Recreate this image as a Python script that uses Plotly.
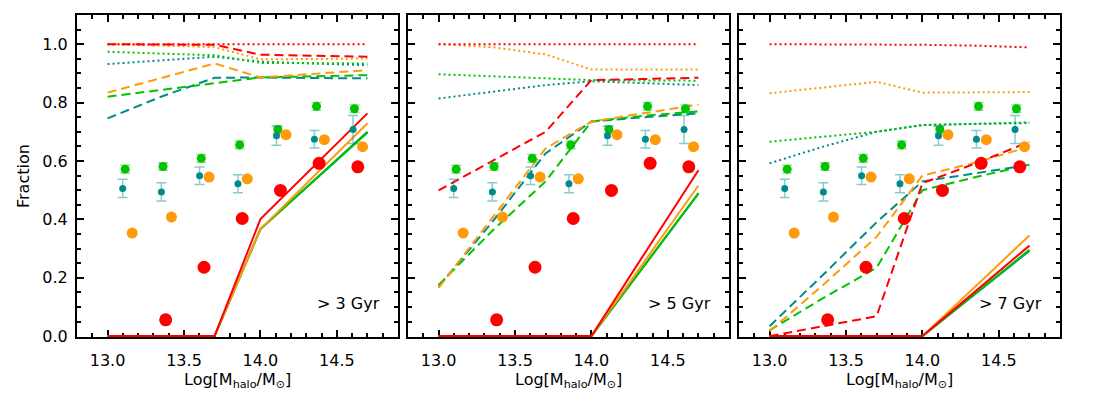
import plotly.graph_objects as go

# ---------------- data ----------------
mass_nodes = [13.0, 13.35, 13.7, 14.0, 14.35, 14.7]
panel_labels = ["> 3 Gyr", "> 5 Gyr", "> 7 Gyr"]

# points (same in all panels)
green_x = [13.115, 13.363, 13.613, 13.864, 14.114, 14.367, 14.615]
green_y = [0.572, 0.581, 0.609, 0.655, 0.708, 0.787, 0.779]
green_err = [0.013, 0.013, 0.013, 0.013, 0.013, 0.013, 0.013]
teal_x = [13.099, 13.352, 13.602, 13.853, 14.105, 14.353, 14.606]
teal_y = [0.506, 0.494, 0.549, 0.522, 0.686, 0.674, 0.708]
teal_err = [0.031, 0.031, 0.030, 0.031, 0.032, 0.030, 0.048]
orange_x = [13.161, 13.418, 13.664, 13.914, 14.167, 14.418, 14.668]
orange_y = [0.353, 0.408, 0.545, 0.539, 0.690, 0.673, 0.649]
red_x = [13.380, 13.631, 13.881, 14.131, 14.384, 14.637]
red_y = [0.056, 0.236, 0.403, 0.499, 0.592, 0.580]

# panel 1 (> 3 Gyr)
p1_red_dot = [1.0, 1.0, 1.0, 1.0, 1.0, 1.0]
p1_orange_dot = [1.0, 0.996, 0.99, 0.948, 0.95, 0.951]
p1_green_dot = [0.974, 0.968, 0.962, 0.936, 0.935, 0.934]
p1_teal_dot = [0.932, 0.945, 0.957, 0.94, 0.934, 0.928]
p1_red_dash = [1.0, 1.0, 0.998, 0.964, 0.960, 0.957]
p1_orange_dash = [0.834, 0.884, 0.934, 0.886, 0.898, 0.911]
p1_green_dash = [0.82, 0.843, 0.866, 0.886, 0.89, 0.894]
p1_teal_dash = [0.746, 0.82, 0.885, 0.886, 0.884, 0.883]
p1_red_solid = [0.0, 0.0, 0.0, 0.401, 0.582, 0.763]
p1_orange_solid = [0.0, 0.0, 0.0, 0.367, 0.548, 0.729]
p1_green_solid = [0.0, 0.0, 0.0, 0.367, 0.532, 0.697]
p1_teal_solid = [0.0, 0.0, 0.0, 0.367, 0.535, 0.700]

# panel 2 (> 5 Gyr)
p2_red_dot = [1.0, 1.0, 1.0, 1.0, 1.0, 1.0]
p2_orange_dot = [1.0, 0.99, 0.965, 0.913, 0.913, 0.913]
p2_green_dot = [0.897, 0.89, 0.883, 0.877, 0.876, 0.875]
p2_teal_dot = [0.814, 0.838, 0.86, 0.873, 0.866, 0.86]
p2_red_dash = [0.499, 0.60, 0.70, 0.877, 0.881, 0.885]
p2_orange_dash = [0.165, 0.405, 0.643, 0.735, 0.763, 0.793]
p2_green_dash = [0.175, 0.36, 0.53, 0.735, 0.755, 0.77]
p2_teal_dash = [0.17, 0.39, 0.626, 0.735, 0.75, 0.763]
p2_red_solid = [0.0, 0.0, 0.0, 0.0, 0.285, 0.568]
p2_orange_solid = [0.0, 0.0, 0.0, 0.0, 0.258, 0.516]
p2_green_solid = [0.0, 0.0, 0.0, 0.0, 0.245, 0.490]
p2_teal_solid = [0.0, 0.0, 0.0, 0.0, 0.244, 0.488]

# panel 3 (> 7 Gyr)
p3_red_dot = [1.0, 1.0, 1.0, 0.998, 0.995, 0.989]
p3_orange_dot = [0.832, 0.852, 0.871, 0.834, 0.835, 0.836]
p3_green_dot = [0.666, 0.683, 0.70, 0.723, 0.728, 0.732]
p3_teal_dot = [0.592, 0.649, 0.70, 0.723, 0.727, 0.73]
p3_red_dash = [0.0, 0.035, 0.068, 0.524, 0.592, 0.666]
p3_orange_dash = [0.017, 0.175, 0.34, 0.55, 0.595, 0.649]
p3_green_dash = [0.02, 0.13, 0.234, 0.50, 0.545, 0.587]
p3_teal_dash = [0.034, 0.21, 0.39, 0.53, 0.558, 0.587]
p3_red_solid = [0.0, 0.0, 0.0, 0.0, 0.155, 0.310]
p3_orange_solid = [0.0, 0.0, 0.0, 0.0, 0.172, 0.345]
p3_green_solid = [0.0, 0.0, 0.0, 0.0, 0.148, 0.296]
p3_teal_solid = [0.0, 0.0, 0.0, 0.0, 0.146, 0.292]

# ---------------- styling ----------------
RED = "#FF0000"
ORANGE = "#FF9A0A"
GREEN = "#00C400"
TEAL = "#008B8B"
FONT = "DejaVu Sans"

panels = [
    dict(dot=[p1_teal_dot, p1_green_dot, p1_orange_dot, p1_red_dot],
         dash=[p1_teal_dash, p1_green_dash, p1_orange_dash, p1_red_dash],
         solid=[p1_teal_solid, p1_green_solid, p1_orange_solid, p1_red_solid]),
    dict(dot=[p2_teal_dot, p2_green_dot, p2_orange_dot, p2_red_dot],
         dash=[p2_teal_dash, p2_green_dash, p2_orange_dash, p2_red_dash],
         solid=[p2_teal_solid, p2_green_solid, p2_orange_solid, p2_red_solid]),
    dict(dot=[p3_teal_dot, p3_green_dot, p3_orange_dot, p3_red_dot],
         dash=[p3_teal_dash, p3_green_dash, p3_orange_dash, p3_red_dash],
         solid=[p3_teal_solid, p3_green_solid, p3_orange_solid, p3_red_solid]),
]
line_colors = [TEAL, GREEN, ORANGE, RED]
dash_styles = {"dot": "2px,3px", "dash": "9px,5px", "solid": "solid"}

fig = go.Figure()

W = 983.0
H = 322.0
domains = [[0, 321 / W], [331 / W, 652 / W], [662 / W, 1.0]]
xtitle = "Log[M<sub>halo</sub>/M<sub>⊙</sub>]"

for i, pan in enumerate(panels):
    xa = "x" if i == 0 else f"x{i+1}"
    ya = "y" if i == 0 else f"y{i+1}"
    for kind in ["dot", "dash", "solid"]:
        for col, vals in zip(line_colors, pan[kind]):
            fig.add_trace(go.Scatter(
                x=mass_nodes, y=vals, mode="lines", xaxis=xa, yaxis=ya,
                line=dict(color=col, width=2, dash=dash_styles[kind]),
                showlegend=False, hoverinfo="skip"))
    # points
    fig.add_trace(go.Scatter(
        x=green_x, y=green_y, mode="markers", xaxis=xa, yaxis=ya,
        marker=dict(color=GREEN, size=9),
        error_y=dict(type="data", array=green_err, visible=True,
                     color="rgba(0,196,0,0.45)", thickness=1.5, width=5),
        showlegend=False))
    fig.add_trace(go.Scatter(
        x=teal_x, y=teal_y, mode="markers", xaxis=xa, yaxis=ya,
        marker=dict(color=TEAL, size=7),
        error_y=dict(type="data", array=teal_err, visible=True,
                     color="rgba(0,139,139,0.45)", thickness=1.5, width=5),
        showlegend=False))
    fig.add_trace(go.Scatter(
        x=orange_x, y=orange_y, mode="markers", xaxis=xa, yaxis=ya,
        marker=dict(color=ORANGE, size=11), showlegend=False))
    fig.add_trace(go.Scatter(
        x=red_x, y=red_y, mode="markers", xaxis=xa, yaxis=ya,
        marker=dict(color=RED, size=13), showlegend=False))
    fig.add_annotation(x=14.36, y=0.112, xref=xa, yref=ya, text=panel_labels[i],
                       showarrow=False, xanchor="left", yanchor="middle",
                       font=dict(family=FONT, size=16, color="black"))
    # x-axis title as annotation
    fig.add_annotation(x=(domains[i][0] + domains[i][1]) / 2, y=-(380 - 337) / H,
                       xref="paper", yref="paper", text=xtitle, showarrow=False,
                       xanchor="center", yanchor="middle",
                       font=dict(family=FONT, size=16, color="black"))

fig.add_annotation(x=-(77 - 23) / W, y=0.5, xref="paper", yref="paper",
                   text="Fraction", textangle=-90, showarrow=False,
                   xanchor="center", yanchor="middle",
                   font=dict(family=FONT, size=16, color="black"))

common_x = dict(range=[12.8, 14.9], showline=True, linecolor="black", linewidth=2,
                mirror="ticks", ticks="inside", ticklen=7, tickwidth=1.5, tickcolor="black",
                tick0=13.0, dtick=0.5, tickformat=".1f", showgrid=False, zeroline=False,
                ticklabelstandoff=8,
                minor=dict(dtick=0.1, ticks="inside", ticklen=4, tickwidth=1.5,
                           tickcolor="black", showgrid=False),
                tickfont=dict(family=FONT, size=16, color="black"),
                layer="below traces")
common_y = dict(range=[-0.003, 1.1], showline=True, linecolor="black", linewidth=2,
                mirror="ticks", ticks="inside", ticklen=7, tickwidth=1.5, tickcolor="black",
                tick0=0, dtick=0.2, tickformat=".1f", showgrid=False, zeroline=False,
                ticklabelstandoff=4,
                minor=dict(dtick=0.05, ticks="inside", ticklen=4, tickwidth=1.5,
                           tickcolor="black", showgrid=False),
                tickfont=dict(family=FONT, size=16, color="black"),
                layer="below traces")

layout = dict(
    width=1102, height=393,
    margin=dict(l=77, r=42, t=15, b=56),
    paper_bgcolor="white", plot_bgcolor="white",
    font=dict(family=FONT, color="black"),
    showlegend=False,
)
for i in range(3):
    xk = "xaxis" if i == 0 else f"xaxis{i+1}"
    yk = "yaxis" if i == 0 else f"yaxis{i+1}"
    xd = dict(common_x)
    xd.update(domain=domains[i], anchor="y" if i == 0 else f"y{i+1}", automargin=False)
    yd = dict(common_y)
    yd.update(anchor="x" if i == 0 else f"x{i+1}", domain=[0, 1], automargin=False)
    if i != 0:
        yd.update(showticklabels=False)
    layout[xk] = xd
    layout[yk] = yd

fig.update_layout(**layout)
fig.write_html("out.html", config={"displayModeBar": False},
               post_script="document.body.style.margin='0px';document.body.style.padding='0px';")
